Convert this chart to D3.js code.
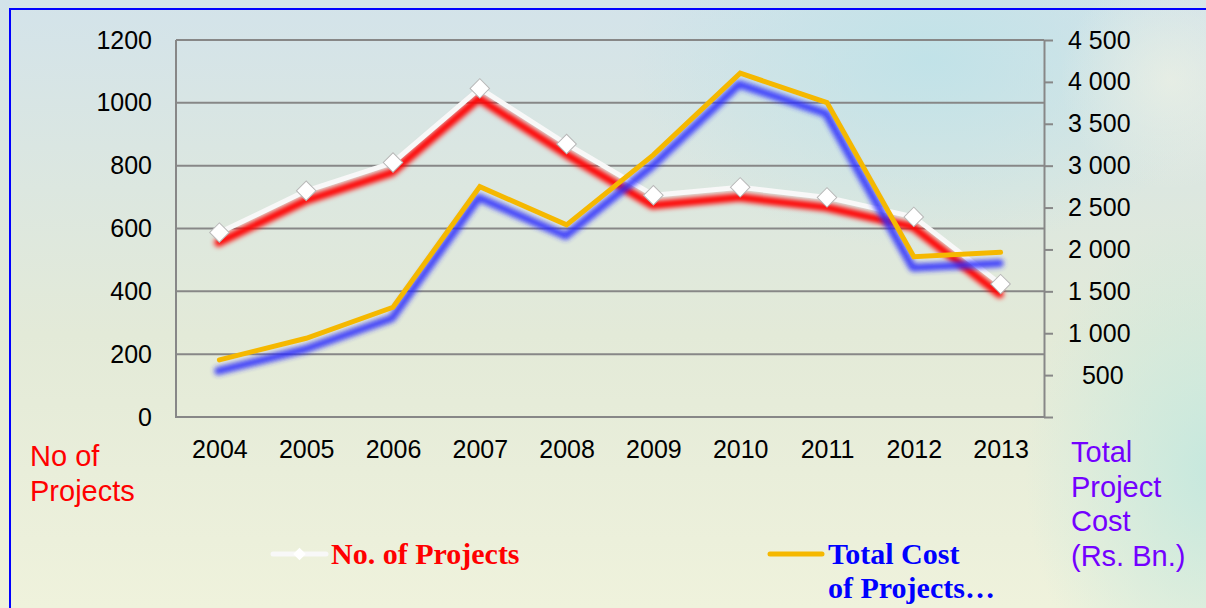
<!DOCTYPE html>
<html>
<head>
<meta charset="utf-8">
<script src="https://cdn.jsdelivr.net/npm/d3@7"></script>
<style>
  body { margin: 0; overflow: hidden; }
  svg { display: block; }
</style>
</head>
<body>
<svg id="chart"></svg>
<script>
// data
var years = ["2004", "2005", "2006", "2007", "2008", "2009", "2010", "2011", "2012", "2013"];
var projects = [587, 720, 810, 1046, 869, 706, 731, 699, 637, 423];
var totalCost = [681, 940, 1310, 2750, 2293, 3128, 4104, 3753, 1914, 1966];
var leftTicks = [0, 200, 400, 600, 800, 1000, 1200];
var rightTicks = [0, 500, 1000, 1500, 2000, 2500, 3000, 3500, 4000, 4500];
var leftTitle = ["No of", "Projects"];
var rightTitle = ["Total", "Project", "Cost", "(Rs. Bn.)"];
var legend1 = ["No. of Projects"];
var legend2 = ["Total Cost", "of Projects\u2026"];

function drawChart() {
    var width = 1206, height = 608;
    var svg = d3.select("#chart").attr("width", width).attr("height", height);
    var defs = svg.append("defs");

    // background
    var lg = defs.append("linearGradient").attr("id", "bg").attr("x1", 0).attr("y1", 0).attr("x2", 0).attr("y2", 1);
    lg.append("stop").attr("offset", "0%").attr("stop-color", "#d3e3ea");
    lg.append("stop").attr("offset", "55%").attr("stop-color", "#e3ead8");
    lg.append("stop").attr("offset", "100%").attr("stop-color", "#eff2dc");
    var rg1 = defs.append("radialGradient").attr("id", "blob1");
    rg1.append("stop").attr("offset", "0%").attr("stop-color", "#bfe2e8").attr("stop-opacity", 0.9);
    rg1.append("stop").attr("offset", "100%").attr("stop-color", "#bfe2e8").attr("stop-opacity", 0);
    var rg2 = defs.append("radialGradient").attr("id", "blob2");
    rg2.append("stop").attr("offset", "0%").attr("stop-color", "#c6e8de").attr("stop-opacity", 1);
    rg2.append("stop").attr("offset", "100%").attr("stop-color", "#c6e8de").attr("stop-opacity", 0);
    var rg3 = defs.append("radialGradient").attr("id", "blob3");
    rg3.append("stop").attr("offset", "0%").attr("stop-color", "#eef1e4").attr("stop-opacity", 0.7);
    rg3.append("stop").attr("offset", "100%").attr("stop-color", "#eef1e4").attr("stop-opacity", 0);

    var glow = defs.append("filter").attr("id", "glow")
        .attr("x", "-10%").attr("y", "-20%").attr("width", "120%").attr("height", "140%");
    glow.append("feGaussianBlur").attr("stdDeviation", 2.8);

    svg.append("rect").attr("width", width).attr("height", height).attr("fill", "url(#bg)");
    svg.append("ellipse").attr("cx", 930).attr("cy", 60).attr("rx", 300).attr("ry", 190).attr("fill", "url(#blob1)");
    svg.append("ellipse").attr("cx", 1215).attr("cy", 470).attr("rx", 190).attr("ry", 260).attr("fill", "url(#blob2)");
    svg.append("ellipse").attr("cx", 1170).attr("cy", 80).attr("rx", 110).attr("ry", 110).attr("fill", "url(#blob3)");

    // frame
    svg.append("rect").attr("x", 10).attr("y", 9).attr("width", 1400).attr("height", 800)
        .attr("fill", "none").attr("stroke", "#0000ff").attr("stroke-width", 2);

    var x = d3.scalePoint().domain(years).range([176, 1044]).padding(0.5);
    var yL = d3.scaleLinear().domain([0, 1200]).range([417, 40]);
    var yR = d3.scaleLinear().domain([0, 4500]).range([417, 40]);

    // gridlines
    svg.append("g").selectAll("line").data(leftTicks).enter().append("line")
        .attr("x1", 176).attr("x2", 1044)
        .attr("y1", d => yL(d)).attr("y2", d => yL(d))
        .attr("stroke", "#878787").attr("stroke-width", 2);
    svg.append("line").attr("x1", 176).attr("x2", 176).attr("y1", 40).attr("y2", 418)
        .attr("stroke", "#878787").attr("stroke-width", 2);

    var font = "'Liberation Sans', Arial, sans-serif";

    var gl = svg.append("g").attr("transform", "translate(176,0)")
        .call(d3.axisLeft(yL).tickValues(leftTicks).tickSize(0).tickPadding(24).tickFormat(d3.format("d")));
    gl.select(".domain").remove();
    gl.selectAll("text").attr("font-family", font).attr("font-size", 25).attr("fill", "#000");

    var gr = svg.append("g").attr("transform", "translate(1044,0)")
        .call(d3.axisRight(yR).tickValues(rightTicks).tickSize(9).tickSizeOuter(0).tickPadding(15)
            .tickFormat(function (v) {
                if (v === 0) return "";
                if (v < 1000) return "\u2007" + v;
                return d3.format(",")(v).replace(",", " ");
            }));
    gr.selectAll("line").attr("stroke", "#878787").attr("stroke-width", 2);
    gr.select(".domain").attr("stroke", "#878787").attr("stroke-width", 2);
    gr.selectAll("text").attr("font-family", font).attr("font-size", 25).attr("fill", "#000");

    var gb = svg.append("g").attr("transform", "translate(0,417)")
        .call(d3.axisBottom(x).tickSize(0).tickPadding(23));
    gb.select(".domain").remove();
    gb.selectAll("text").attr("font-family", font).attr("font-size", 25).attr("fill", "#000");

    // lines
    var lineL = d3.line().x((d, i) => x(years[i])).y(d => yL(d));
    var lineR = d3.line().x((d, i) => x(years[i])).y(d => yR(d));

    svg.append("path").datum(projects).attr("d", lineL)
        .attr("fill", "none").attr("stroke", "#ff0000").attr("stroke-width", 8)
        .attr("stroke-linejoin", "round").attr("stroke-linecap", "round")
        .attr("filter", "url(#glow)").attr("transform", "translate(-1,10)");
    svg.append("path").datum(projects).attr("d", lineL)
        .attr("fill", "none").attr("stroke", "#f8f8f8").attr("stroke-width", 5)
        .attr("stroke-linejoin", "round");

    svg.append("path").datum(totalCost).attr("d", lineR)
        .attr("fill", "none").attr("stroke", "#2a2aff").attr("stroke-width", 8)
        .attr("stroke-linejoin", "round").attr("stroke-linecap", "round")
        .attr("filter", "url(#glow)").attr("opacity", 0.85).attr("transform", "translate(-1,11)");
    svg.append("path").datum(totalCost).attr("d", lineR)
        .attr("fill", "none").attr("stroke", "#f5b800").attr("stroke-width", 5)
        .attr("stroke-linejoin", "miter").attr("stroke-linecap", "round");

    var diamond = d3.symbol().type(d3.symbolSquare).size(190);
    svg.append("g").selectAll("path").data(projects).enter().append("path")
        .attr("d", diamond)
        .attr("transform", (d, i) => "translate(" + x(years[i]) + "," + yL(d) + ") rotate(45)")
        .attr("fill", "#ffffff").attr("stroke", "#b8b8b8").attr("stroke-width", 1);

    // axis titles
    var tl = svg.append("text").attr("font-family", font).attr("font-size", 29).attr("fill", "#ff0000");
    tl.selectAll("tspan").data(leftTitle).enter().append("tspan")
        .attr("x", 30).attr("y", (d, i) => 466 + i * 35).text(d => d);
    var tr = svg.append("text").attr("font-family", font).attr("font-size", 29).attr("fill", "#7300ff");
    tr.selectAll("tspan").data(rightTitle).enter().append("tspan")
        .attr("x", 1071).attr("y", (d, i) => 462 + i * 34.7).text(d => d);

    // legend
    var serif = "'Liberation Serif', 'Times New Roman', serif";
    svg.append("line").attr("x1", 273).attr("x2", 326).attr("y1", 554).attr("y2", 554)
        .attr("stroke", "#f8f8f8").attr("stroke-width", 5).attr("stroke-linecap", "round");
    svg.append("path").attr("d", d3.symbol().type(d3.symbolSquare).size(80))
        .attr("transform", "translate(299.5,554) rotate(45)").attr("fill", "#ffffff");
    svg.append("text").attr("x", 331).attr("y", 564).attr("font-family", serif)
        .attr("font-weight", "bold").attr("font-size", 30).attr("fill", "#ff0000")
        .text(legend1[0]);

    svg.append("line").attr("x1", 770).attr("x2", 822).attr("y1", 554).attr("y2", 554)
        .attr("stroke", "#f5b800").attr("stroke-width", 5).attr("stroke-linecap", "round");
    var lt = svg.append("text").attr("font-family", serif).attr("font-weight", "bold")
        .attr("font-size", 30).attr("fill", "#0000ff");
    lt.selectAll("tspan").data(legend2).enter().append("tspan")
        .attr("x", 828).attr("y", (d, i) => 564 + i * 34).text(d => d);
}

drawChart();
</script>
</body>
</html>
